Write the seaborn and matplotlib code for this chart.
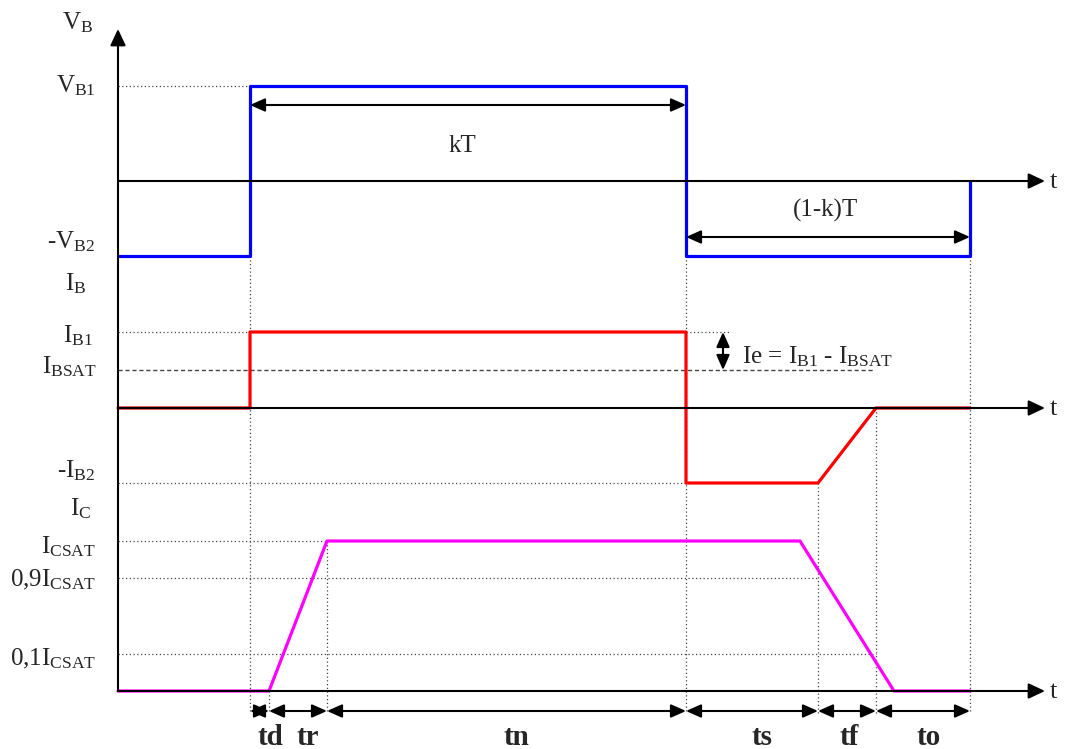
import numpy as np
import pandas as pd
import seaborn as sns
import matplotlib.pyplot as plt

# time marks (px from the vertical axis)
t_on, t_d, t_r = 132, 151, 209
t_off, t_fall, t_s, t_f, t_ic0, t_end = 568, 682, 700, 758, 776, 852

# levels (px above each baseline)
VB1, VB2 = 95, 75
IB1, IBSAT, IB2 = 76, 38, 75
ICSAT, IC90, IC10 = 150, 113, 37

vb_t = [0, t_on, t_on, t_off, t_off, t_end, t_end]
vb_v = [-VB2, -VB2, VB1, VB1, -VB2, -VB2, 0]
ib_t = [0, t_on, t_on, t_off, t_off, t_s, t_f, t_end]
ib_v = [0, 0, IB1, IB1, -IB2, -IB2, 0, 0]
ic_t = [0, t_d, t_r, t_fall, t_ic0, t_end]
ic_v = [0, 0, ICSAT, ICSAT, 0, 0]

names = ['td', 'tr', 'tn', 'ts', 'tf', 'to']
name_x = [270, 308, 516, 762, 849, 929]

x0 = 118
base_vb, base_ib, base_ic = 181, 408, 691

sns.set_style('white')
plt.rcParams['font.family'] = ['Liberation Serif', 'DejaVu Serif']
plt.rcParams['mathtext.fontset'] = 'custom'
plt.rcParams['mathtext.rm'] = 'Liberation Serif'
plt.rcParams['mathtext.it'] = 'Liberation Serif:italic'
plt.rcParams['mathtext.bf'] = 'Liberation Serif:bold'

fig = plt.figure(figsize=(10.69, 7.49), dpi=100)
ax = fig.add_axes([0, 0, 1, 1])

X = lambda t: x0 + t
dot = dict(color='#444444', lw=0.9, ls=(0, (1, 2)))
dash = dict(color='#444444', lw=1.0, ls=(0, (3, 2)))

# horizontal guides
ax.hlines(base_vb - VB1, x0, X(t_on), **dot)
ax.hlines(base_ib - IB1, x0, X(t_on), **dot)
ax.hlines(base_ib - IB1, X(t_off), 730, **dot)
ax.hlines(base_ib - IBSAT, x0, X(t_f) - 3, **dash)
ax.hlines(base_ib + IB2, x0, X(t_off), **dot)
ax.hlines(base_ic - ICSAT, x0, X(t_r), **dot)
ax.hlines(base_ic - IC90, x0, X(t_s), **dot)
ax.hlines(base_ic - IC10, x0, X(t_f), **dot)

# vertical guides
y_bot = 713
ax.vlines(X(t_on), base_vb + VB2, y_bot, **dot)
ax.vlines(X(t_d), base_ic, y_bot, **dot)
ax.vlines(X(t_r), base_ic - ICSAT, y_bot, **dot)
ax.vlines(X(t_off), base_vb + VB2, y_bot, **dot)
ax.vlines(X(t_s), base_ib + IB2, y_bot, **dot)
ax.vlines(X(t_f), base_ib, y_bot, **dot)
ax.vlines(X(t_end), base_vb + VB2, y_bot, **dot)

# axes with arrows
ax_arrow = dict(arrowstyle='-|>,head_length=1.0,head_width=0.47', color='black',
                lw=1.5, shrinkA=0, shrinkB=0, mutation_scale=10)
for b in (base_vb, base_ib, base_ic):
    ax.annotate('', xy=(1045, b), xytext=(x0, b), arrowprops=ax_arrow)
    ax.text(1050, b + 7, 't', fontsize=19, ha='left', va='baseline')
ax.annotate('', xy=(x0, 29), xytext=(x0, base_ic), arrowprops=ax_arrow)

# waveforms
sns.lineplot(x=[X(t) for t in vb_t], y=[base_vb - v for v in vb_v], sort=False,
             estimator=None, color='#0000ff', lw=2.3, ax=ax)
sns.lineplot(x=[X(t) for t in ib_t], y=[base_ib - v for v in ib_v], sort=False,
             estimator=None, color='#ff0000', lw=2.3, ax=ax)
sns.lineplot(x=[X(t) for t in ic_t], y=[base_ic - v for v in ic_v], sort=False,
             estimator=None, color='#ff00ff', lw=2.3, ax=ax)
ax.set_xlim(0, 1069)
ax.set_ylim(749, 0)
ax.axis('off')

# dimension arrows
dim = dict(arrowstyle='<|-|>,head_length=0.9,head_width=0.4', color='black',
           lw=1.5, shrinkA=0, shrinkB=0, mutation_scale=10)
ax.annotate('', xy=(X(t_off), 105), xytext=(X(t_on), 105), arrowprops=dim)
ax.annotate('', xy=(X(t_end), 237), xytext=(X(t_off), 237), arrowprops=dim)
ax.annotate('', xy=(723, base_ib - IBSAT), xytext=(723, base_ib - IB1), arrowprops=dim)

fs = 18
ax.text(462, 152, 'kT', fontsize=fs, ha='center', va='baseline')
ax.text(825, 217, '(1-k)T', fontsize=fs, ha='center', va='baseline')
ax.text(742, 363, r'Ie = $\mathrm{I_{B1}}$ - $\mathrm{I_{BSAT}}$', fontsize=fs,
        ha='left', va='baseline')

bounds = [t_on, t_d, t_r, t_off, t_s, t_f, t_end]
for a, b in zip(bounds[:-1], bounds[1:]):
    ax.annotate('', xy=(X(b), 711), xytext=(X(a), 711), arrowprops=dim)
for n, xc in zip(names, name_x):
    ax.text(xc, 745, n, fontsize=21, fontweight='bold', ha='center', va='baseline')

# left labels
labels = [
    (r'$\mathrm{V_B}$', 93, 29),
    (r'$\mathrm{V_{B1}}$', 96, 92),
    (r'-$\mathrm{V_{B2}}$', 95, 248),
    (r'$\mathrm{I_B}$', 86, 290),
    (r'$\mathrm{I_{B1}}$', 93, 342),
    (r'$\mathrm{I_{BSAT}}$', 97, 373),
    (r'-$\mathrm{I_{B2}}$', 95, 477),
    (r'$\mathrm{I_C}$', 91, 515),
    (r'$\mathrm{I_{CSAT}}$', 96, 553),
    (r'0,9$\mathrm{I_{CSAT}}$', 96, 586),
    (r'0,1$\mathrm{I_{CSAT}}$', 96, 665),
]
for s, x, y in labels:
    ax.text(x, y, s, fontsize=fs, ha='right', va='baseline')

fig.savefig('out.png', dpi=100)
